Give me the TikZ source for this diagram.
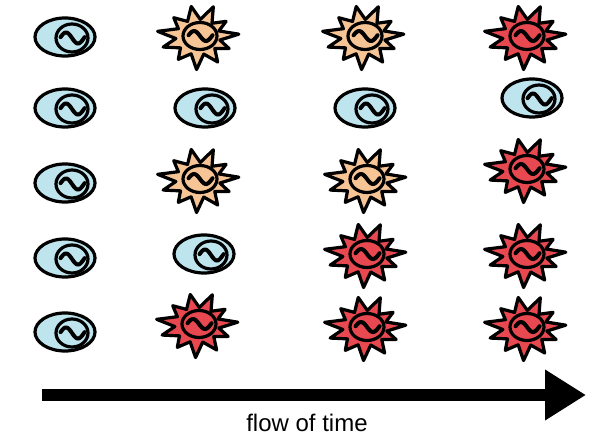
\documentclass[tikz,border=0pt]{standalone}
\usepackage{fontspec}
\newfontfamily\labelfont{Liberation Sans}
\usepackage{tikz}
\usetikzlibrary{arrows.meta,positioning}
\definecolor{calmblue}{RGB}{190,228,238}
\definecolor{warmorange}{RGB}{247,196,150}
\definecolor{hotred}{RGB}{232,72,80}
\tikzset{
  cellline/.style={draw=black, line width=3.2pt, line join=round},
  wave/.style={line width=4pt, line cap=round},
  timearrow/.style={line width=12pt, -{Triangle[length=41pt, width=48pt]}},
  pics/calm/.style={code={
    \draw[cellline, fill=calmblue] (0,0) ellipse (30pt and 19pt);
    \draw[cellline] (7pt,-1pt) ellipse (16pt and 14pt);
    \begin{scope}[x=1pt, y=1pt]
      \draw[wave] plot[domain=-0.95:1.05, samples=30, smooth]
        ({7+12*\x}, {-1-5.5*sin(180*\x)});
    \end{scope}
  }},
  pics/spiky/.style={code={
    \begin{scope}[x=39pt, y=31pt]
      \draw[cellline, fill=#1] (100:1.0) -- (84:0.57) -- (68:1.05) -- (51:0.57)
        -- (35:0.88) -- (20:0.57) -- (5:1.05) -- (-10:0.57) -- (-25:0.88)
        -- (-41:0.57) -- (-58:0.95) -- (-75:0.57) -- (-92:1.05) -- (-108:0.57)
        -- (-125:0.88) -- (-142:0.57) -- (-160:0.95) -- (-175:0.57)
        -- (170:1.05) -- (152:0.57) -- (135:0.88) -- (118:0.57) -- cycle;
    \end{scope}
    \draw[cellline] (2pt,1pt) ellipse (17pt and 13.5pt);
    \begin{scope}[x=1pt, y=1pt]
      \draw[wave] plot[domain=-0.95:1.05, samples=30, smooth]
        ({2+12*\x}, {1-5*sin(180*\x)});
    \end{scope}
  }},
  pics/warm/.style={spiky=warmorange},
  pics/hot/.style={spiky=hotred}
}
\begin{document}
\begin{tikzpicture}[x=1pt, y=-1pt]
  \useasboundingbox (0,0) rectangle (598,438);

  % quiet cells
  \foreach \px/\py in {65/37, 65/108, 205/108, 365/108, 532/98,
                       65/183, 65/258, 204/254, 65/332}
    \pic at (\px,\py) {calm};
  % warming up
  \foreach \px/\py in {198/37, 363/37, 198/180, 365/180}
    \pic at (\px,\py) {warm};
  % fully on
  \foreach \px/\py in {525/37, 525/170, 365/255, 525/255,
                       197/325, 365/328, 525/328}
    \pic at (\px,\py) {hot};

  \coordinate (tstart) at (42,395);
  \coordinate (tend) at (586,395);
  \draw[timearrow] (tstart) -- (tend);
  \node[anchor=base, inner sep=0pt, font=\labelfont\fontsize{24}{28}\selectfont]
    (timelabel) at (307,432) {flow of time};
\end{tikzpicture}
\end{document}
